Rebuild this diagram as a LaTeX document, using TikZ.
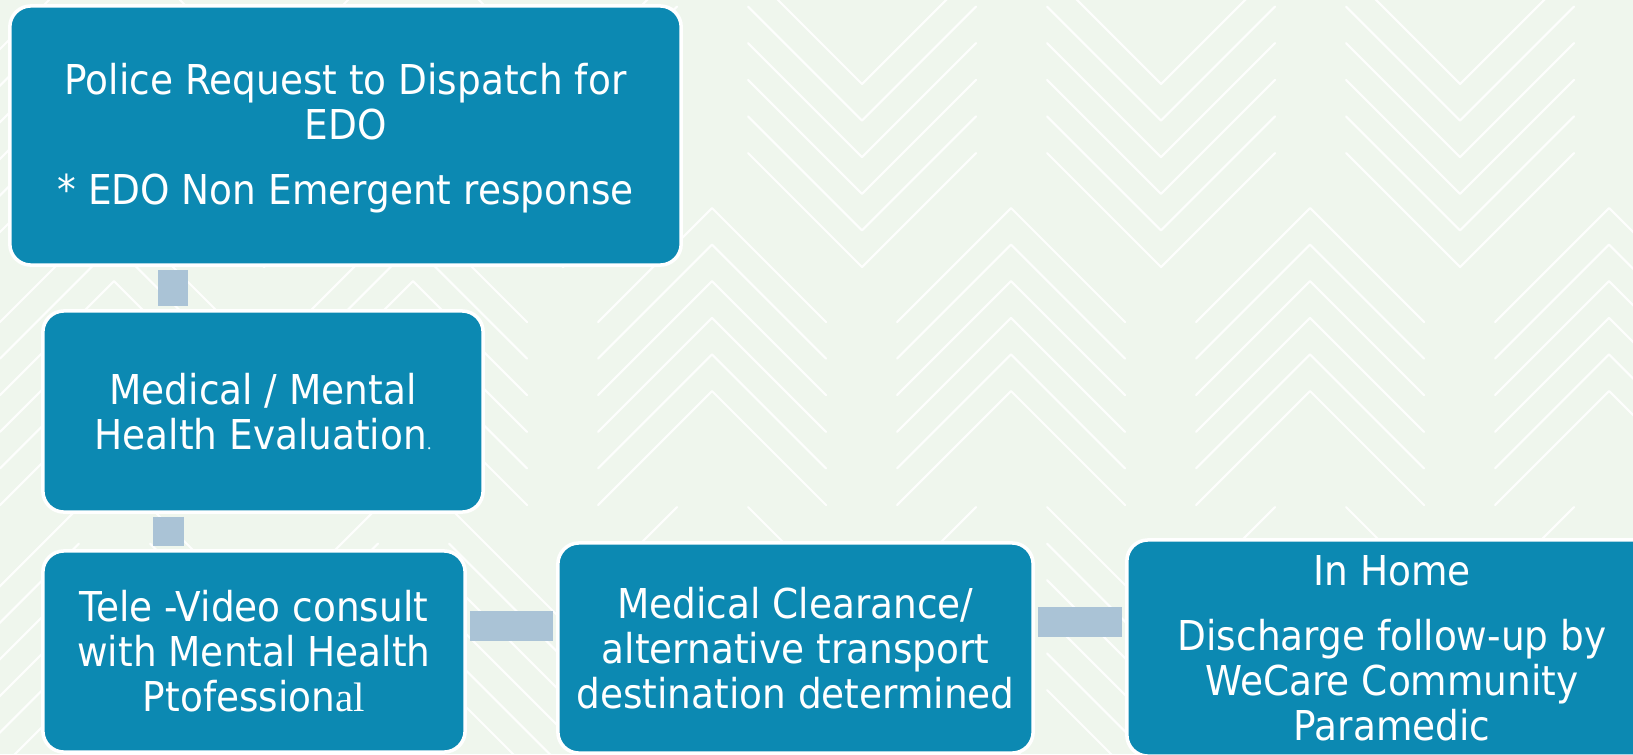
\documentclass[tikz,border=0pt]{standalone}
\usepackage{fontspec}
\setmainfont{DejaVu Sans}[FakeStretch=0.91]
\newfontfamily\serifal{Liberation Serif}
\usepackage{tikz}
\usetikzlibrary{calc}
\definecolor{boxblue}{RGB}{12,137,178}
\definecolor{barblue}{RGB}{170,195,214}
\definecolor{paper}{RGB}{239,246,237}

\begin{document}
\begin{tikzpicture}[line cap=round,line join=round,x=0.01cm,y=-0.01cm,
    stage/.style={draw=white,line width=1pt,fill=boxblue,rounded corners=6pt,text=white,
        align=center,inner sep=0pt,font=\fontsize{11.7}{12.8}\selectfont},
    link/.style={draw=barblue,line width=0.3cm,line cap=butt,shorten <=0.03cm,shorten >=0.03cm},
    zig/.style={white,line width=0.6pt,opacity=0.9}]
                \fill [paper] (0,0) rectangle (1633,754);
                \useasboundingbox (0,0) rectangle (1633,754);
                % chevron backdrop
                \begin{scope}
                    \clip (0,0) rectangle (1633,754);
                    \foreach \row in {0,537}{
                        \foreach \col in {-35,264,563,862,1161,1460,1759}
                            \foreach \i in {0,...,5}
                                \draw [zig] (\col-114,\row+84+36.6*\i-114) -- (\col,\row+84+36.6*\i) -- (\col+114,\row+84+36.6*\i-114);
                        \foreach \col in {114,413,712,1011,1310,1609}
                            \foreach \i in {0,...,5}
                                \draw [zig] (\col-114,\row+208+36.6*\i+114) -- (\col,\row+208+36.6*\i) -- (\col+114,\row+208+36.6*\i+114);
                    }
                \end{scope}
                % steps
                \node [stage,minimum width=6.71cm,minimum height=2.59cm] (police) at (345.5,135.5)
                    {\rule{0pt}{10.6pt}Police Request to Dispatch for\\EDO\\[5.7pt]* EDO Non Emergent response};
                \node [stage,minimum width=4.40cm,minimum height=2.01cm] (evaluation) at (263,411.5)
                    {Medical / Mental\\Health Evaluation{\serifal\fontsize{5}{5}\selectfont.}};
                \node [stage,minimum width=4.22cm,minimum height=2.01cm] (televideo) at (254,651.5)
                    {Tele -Video consult\\with Mental Health\\Ptofession{\serifal al}};
                \node [stage,minimum width=4.75cm,minimum height=2.10cm] (clearance) at (795.5,648)
                    {Medical Clearance/\\alternative transport\\destination determined};
                \node [stage,minimum width=5.30cm,minimum height=2.16cm] (homecare) at (1392,648)
                    {In Home\\[5.7pt]Discharge follow-up by\\WeCare Community\\Paramedic};
                % bars between steps
                \draw [link] (173,0 |- police.south) -- (173,0 |- evaluation.north);
                \draw [link] (168.5,0 |- evaluation.south) -- (168.5,0 |- televideo.north);
                \draw [link] (televideo.east |- 0,625.5) -- (clearance.west |- 0,625.5);
                \draw [link] (clearance.east |- 0,622) -- (homecare.west |- 0,622);
\end{tikzpicture}
\end{document}
